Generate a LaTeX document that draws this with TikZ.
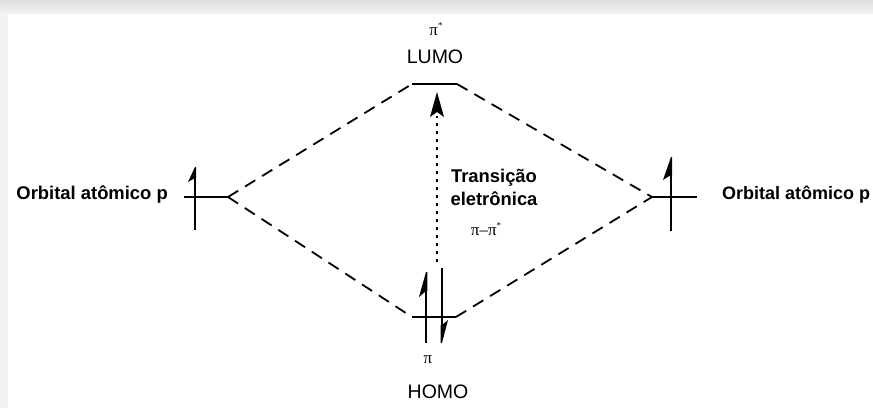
\documentclass[tikz,border=0pt]{standalone}
\usepackage{fontspec}
\setmainfont{Liberation Sans}
\newfontfamily\grk{Liberation Serif}
\usetikzlibrary{arrows.meta}
\begin{document}
\begin{tikzpicture}[x=1pt,y=-1pt,
  level/.style={line width=2pt},
  shaft/.style={line width=2.2pt},
  conn/.style={line width=1.8pt,dash pattern=on 12pt off 8pt},
  lbl/.style={font=\bfseries\fontsize{18.4}{23}\selectfont,inner sep=0pt},
  plain/.style={font=\fontsize{19.5}{23}\selectfont,inner sep=0pt},
  gk/.style={font=\grk\fontsize{17}{20}\selectfont,inner sep=0pt}]
\useasboundingbox (0,0) rectangle (873,408);
\clip (0,0) rectangle (873,408);
\shade[top color=black!13,bottom color=black!4] (0,0) rectangle (873,15);
\fill[black!5] (0,14) rectangle (8,408);
\fill[white] (8,14) rectangle (873,408);
% coordinates
\coordinate (lumoW) at (412,84);
\coordinate (lumoE) at (457,84);
\coordinate (homoW) at (412,317);
\coordinate (homoE) at (456,317);
\coordinate (leftW) at (184,197);
\coordinate (leftE) at (228,197);
\coordinate (rightW) at (652,197);
\coordinate (rightE) at (697,197);
% levels
\draw[level] (lumoW) -- (lumoE);
\draw[level] (homoW) -- (homoE);
\draw[level] (leftW) -- (leftE);
\draw[level] (rightW) -- (rightE);
% dashed connectors
\draw[conn] (leftE) -- (lumoW);
\draw[conn] (leftE) -- (homoW);
\draw[conn] (lumoE) -- (rightW);
\draw[conn] (homoE) -- (rightW);
% left spin
\coordinate (lsB) at (195,230);
\coordinate (lsT) at (195,167);
\draw[shaft] (lsB) -- (195,176);
\fill (lsT) -- (188,182) -- (195,178) -- (196.1,178) -- (196.1,167) -- cycle;
% right spin
\coordinate (rsB) at (671,231);
\coordinate (rsT) at (671,157);
\draw[shaft] (rsB) -- (671,168);
\fill (rsT) -- (663,180) -- (671,175) -- (672.1,175) -- (672.1,157) -- cycle;
% HOMO up spin
\coordinate (huB) at (426,343);
\coordinate (huT) at (426,272);
\draw[line width=2.6pt] (huB) -- (426,283);
\fill (huT) -- (419,297) -- (426,291) -- (427.3,291) -- (427.3,272) -- cycle;
% HOMO down spin
\coordinate (hdT) at (442,268);
\coordinate (hdB) at (442,343);
\draw[line width=2.6pt] (hdT) -- (442,332);
\fill (hdB) -- (448,320) -- (442,325) -- (440.7,325) -- (440.7,343) -- cycle;
% dotted transition arrow
\coordinate (trB) at (437,262);
\coordinate (trT) at (437,92);
\draw[line width=2.6pt,dash pattern=on 2.6pt off 5.4pt] (trB) -- (437,116);
\fill (trT) -- (444,117) -- (437,112) -- (430,117) -- cycle;
% labels
\node[gk] (pistar) at (436,29) {π\raisebox{0.4em}{\small *}};
\node[plain] (lumo) at (435,57) {LUMO};
\node[gk] (pi) at (428,360) {π};
\node[plain] (homo) at (438,392) {HOMO};
\node[lbl,align=center,font=\bfseries\fontsize{18.4}{23}\selectfont] (trans) at (494,187) {Transição\\eletrônica};
\node[gk] (pipi) at (486,229) {π–π\raisebox{0.4em}{\small *}};
\node[lbl,anchor=east] (orbL) at (168,195) {Orbital atômico p};
\node[lbl,anchor=west,font=\bfseries\fontsize{18}{23}\selectfont] (orbR) at (722,195) {Orbital atômico p};
\end{tikzpicture}
\end{document}
